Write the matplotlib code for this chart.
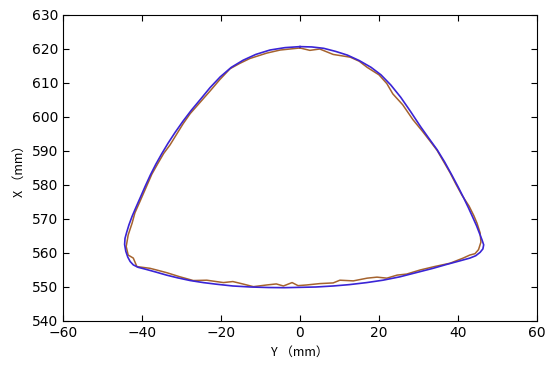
import matplotlib
matplotlib.use('Agg')
import matplotlib.pyplot as plt

# fitted contour (Y, X) in mm
y_fit = [0, 3, 6, 9, 12, 15, 18, 20.5, 23, 25.5, 28, 30.5, 32.7, 34.7,
         36.6, 38.4, 40.0, 41.4, 42.6, 43.7, 44.7, 45.5, 46.1, 46.5, 46.3,
         45.6, 44.5, 43, 40.5, 37, 33.7, 30, 25.3, 21, 16.9, 12.5, 8.4, 4, 0,
         -4, -8, -12.5, -17, -21, -24.5, -27.8, -31, -33.8, -36.5, -39, -41,
         -42.2, -43.0, -43.6, -44.1, -44.4, -44.3, -43.9, -43.3, -42.5, -41.5,
         -40.4, -39.2, -37.9, -36.5, -35.0, -33.4, -31.6, -29.6, -27.5, -25.2,
         -22.8, -20.2, -17.4, -14.4, -11.2, -7.6, -3.8, 0]
x_fit = [620.7, 620.6, 620.2, 619.3, 618.2, 616.6, 614.6, 612.4, 609.4, 605.8, 601.6,
         597.2, 593.6, 590.4, 586.8, 583.0, 579.5, 576.3, 573.4, 570.6, 568.0, 565.6,
         563.8, 562.4, 561.2, 560.2, 559.2, 558.5, 557.7, 556.6, 555.5, 554.4, 553.0,
         552.0, 551.3, 550.7, 550.3, 550.0, 549.9, 549.8, 549.85, 550.0, 550.3, 550.8,
         551.3, 551.9, 552.7, 553.5, 554.4, 555.2, 555.8, 556.5, 557.5, 558.8, 560.5,
         562.5, 564.3, 566.0, 568.3, 570.8, 573.5, 576.4, 579.6, 582.9, 586.1, 589.2,
         592.3, 595.5, 598.8, 602.0, 605.2, 608.6, 611.8, 614.6, 616.7, 618.4, 619.7,
         620.4, 620.7]

# measured contour (Y, X) in mm
y_meas = [0, 2.5, 5, 8.4, 12.7, 15, 17, 20, 22, 23.5, 26, 28.6, 31, 33, 34.7,
          36.5, 38, 39.5, 41, 42.8, 44, 44.8, 45.6, 45.8, 45.2, 44.3, 43, 41.3,
          38, 34, 30.4, 27, 24.6, 22, 19.5, 17, 13.5, 10.1, 8.4, 5, 1.7, -0.5,
          -2, -4.2, -6, -8.4, -11.8, -14.5, -17, -19.4, -23.6, -27, -30.4, -33.7,
          -36.3, -38, -41.3, -42.2, -43.5, -44, -43.5, -42.5, -41.8, -40.5, -39,
          -37.5, -36, -34.5, -32.9, -29.6, -27.8, -25.3, -22.8, -20.3, -17.7,
          -15.2, -12.7, -8.4, -5, -2.5, 0]
x_meas = [620.3, 619.6, 620.0, 618.4, 617.6, 616.4, 614.6, 612.4, 609.8, 606.8, 603.6, 599.2,
          595.8, 592.8, 590.2, 586.6, 583.6, 580.2, 577.0, 573.8, 571.0, 568.8, 565.9, 563.2,
          561.0, 559.8, 559.4, 558.5, 557.0, 556.0, 555.0, 553.8, 553.5, 552.6, 552.9,
          552.6, 551.8, 552.0, 551.2, 551.0, 550.6, 550.4, 551.3, 550.3, 550.9, 550.6,
          550.1, 550.9, 551.6, 551.3, 552.0, 551.9, 553.0, 554.2, 555.0, 555.5, 556.0,
          558.5, 559.4, 561.9, 565.3, 568.8, 571.8, 575.2, 579.2, 583.2, 586.3,
          589.3, 591.8, 598.0, 601.0, 604.3, 607.6, 611.0, 614.2, 615.8, 617.2,
          618.8, 619.7, 620.0, 620.3]

BLUE = '#3a24d6'
BROWN = '#a5632e'
LABEL_FONT = ['Noto Sans CJK SC', 'DejaVu Sans']

fig = plt.figure(figsize=(5.5, 3.73), dpi=100)
ax = fig.add_axes([63 / 550, 1 - 321 / 373, 474 / 550, 306 / 373])

ax.plot(y_meas, x_meas, color=BROWN, lw=1.1)
ax.plot(y_fit, x_fit, color=BLUE, lw=1.2)

ax.set_xlim(-60, 60)
ax.set_ylim(540, 630)
ax.set_xticks(range(-60, 61, 20))
ax.set_yticks(range(540, 631, 10))
ax.tick_params(direction='in', top=True, right=True, length=4, labelsize=10)
ax.set_xlabel('Y （mm）', family=LABEL_FONT, fontsize=9)
ax.set_ylabel('X （mm）', family=LABEL_FONT, fontsize=9)

fig.savefig('out.png', dpi=100, facecolor='white')
